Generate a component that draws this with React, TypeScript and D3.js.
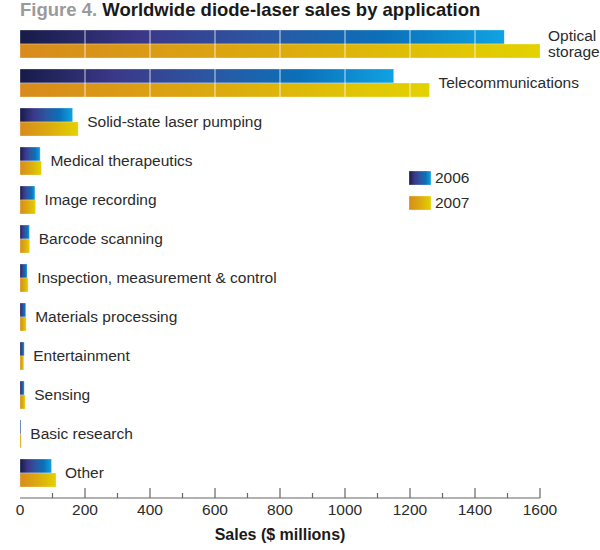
import React, { useEffect, useRef } from 'react';
import * as d3 from 'd3';

const categories = [
  'Optical storage',
  'Telecommunications',
  'Solid-state laser pumping',
  'Medical therapeutics',
  'Image recording',
  'Barcode scanning',
  'Inspection, measurement & control',
  'Materials processing',
  'Entertainment',
  'Sensing',
  'Basic research',
  'Other',
];
const years = ['2006', '2007'];
const sales2006 = [1490, 1150, 162, 62, 46, 29, 22, 18, 13, 13, 3, 97];
const sales2007 = [1600, 1260, 179, 66, 48, 30, 25, 19, 12, 16, 4, 111];
const xTicks = [0, 200, 400, 600, 800, 1000, 1200, 1400, 1600];

const App: React.FC = () => {
  const ref = useRef<SVGSVGElement>(null);

  useEffect(() => {
    if (!ref.current) return;
    const svg = d3.select(ref.current);
    svg.selectAll('*').remove();

    const font = 'Liberation Sans, Arial, Helvetica, sans-serif';
    const textColor = '#2b2b2b';

    // gradients, one per series, stretched over each bar
    const defs = svg.append('defs');
    const g06 = defs.append('linearGradient').attr('id', 'g2006');
    [
      ['0%', '#161b48'],
      ['25%', '#3b3888'],
      ['50%', '#2c56a2'],
      ['75%', '#0b70b9'],
      ['100%', '#10a2e2'],
    ].forEach(([o, c]) => g06.append('stop').attr('offset', o).attr('stop-color', c));
    const g07 = defs.append('linearGradient').attr('id', 'g2007');
    [
      ['0%', '#d88b1c'],
      ['50%', '#dcab0e'],
      ['100%', '#e3d200'],
    ].forEach(([o, c]) => g07.append('stop').attr('offset', o).attr('stop-color', c));

    const x = d3.scaleLinear().domain([0, 1600]).range([20, 540]);
    const y = d3.scaleBand<string>()
      .domain(categories)
      .range([30, 487])
      .paddingInner(11 / 39)
      .paddingOuter(0);
    const yInner = d3.scaleBand<string>().domain(years).range([0, y.bandwidth()]);

    // title
    const title = svg.append('text')
      .attr('x', 20)
      .attr('y', 16)
      .style('font-family', font)
      .style('font-size', '18.5px')
      .style('font-weight', 'bold');
    title.append('tspan').attr('fill', '#9a9a9a').text('Figure 4. ');
    title.append('tspan').attr('fill', '#1a1a1a').text('Worldwide diode-laser sales by application');

    // bars
    const series = [sales2006, sales2007];
    categories.forEach((cat, i) => {
      years.forEach((yr, j) => {
        svg.append('rect')
          .attr('x', x(0))
          .attr('y', y(cat)! + yInner(yr)!)
          .attr('width', x(series[j][i]) - x(0))
          .attr('height', yInner.bandwidth())
          .attr('fill', `url(#g${yr})`)
          .attr('stroke', '#fff')
          .attr('stroke-opacity', 0.5)
          .attr('stroke-width', 0.6);
      });
    });

    // white grid lines over the bars
    xTicks.slice(1, -1).forEach(t => {
      svg.append('line')
        .attr('x1', x(t))
        .attr('x2', x(t))
        .attr('y1', y.range()[0])
        .attr('y2', y.range()[1])
        .attr('stroke', '#ffffff')
        .attr('stroke-opacity', 0.75)
        .attr('stroke-width', 1);
    });

    // category labels
    categories.forEach((cat, i) => {
      const end = x(Math.max(sales2006[i], sales2007[i])) + 9;
      const cy = y(cat)! + y.bandwidth() / 2;
      const t = svg.append('text')
        .attr('x', end)
        .style('font-family', font)
        .style('font-size', '15.5px')
        .attr('fill', textColor);
      if (cat === 'Optical storage') {
        t.append('tspan').attr('x', end - 1).attr('y', cy - 3).text('Optical');
        t.append('tspan').attr('x', end - 1).attr('y', cy + 13).text('storage');
      } else {
        t.attr('y', cy + 5).text(cat);
      }
    });

    // legend
    years.forEach((yr, j) => {
      const ly = 171 + j * 25;
      svg.append('rect')
        .attr('x', 409)
        .attr('y', ly)
        .attr('width', 22)
        .attr('height', 14)
        .attr('fill', `url(#g${yr})`)
        .attr('stroke', '#fff')
        .attr('stroke-opacity', 0.5)
        .attr('stroke-width', 0.6);
      svg.append('text')
        .attr('x', 435)
        .attr('y', ly + 12)
        .style('font-family', font)
        .style('font-size', '15.5px')
        .attr('fill', textColor)
        .text(yr);
    });

    // x axis
    const axisY = 498;
    const axisCol = '#666';
    svg.append('line')
      .attr('x1', x(0)).attr('x2', x(1600))
      .attr('y1', axisY).attr('y2', axisY)
      .attr('stroke', axisCol).attr('stroke-width', 1.2);
    x.ticks(16).forEach(t => {
      const major = t % 200 === 0;
      if (t === 0) return;
      svg.append('line')
        .attr('x1', x(t)).attr('x2', x(t))
        .attr('y1', axisY).attr('y2', axisY - (major ? 10 : 5))
        .attr('stroke', axisCol).attr('stroke-width', 1.2);
    });
    xTicks.forEach(t => {
      svg.append('text')
        .attr('x', x(t))
        .attr('y', axisY + 17)
        .attr('text-anchor', 'middle')
        .style('font-family', font)
        .style('font-size', '15.5px')
        .attr('fill', textColor)
        .text(t);
    });
    svg.append('text')
      .attr('x', 280)
      .attr('y', 540)
      .attr('text-anchor', 'middle')
      .style('font-family', font)
      .style('font-size', '16px')
      .style('font-weight', 'bold')
      .attr('fill', '#1a1a1a')
      .text('Sales ($ millions)');
  }, []);

  return (
    <svg
      ref={ref}
      width={600}
      height={550}
      style={{ position: 'absolute', left: 0, top: 0, background: '#fff' }}
    />
  );
};

export default App;
